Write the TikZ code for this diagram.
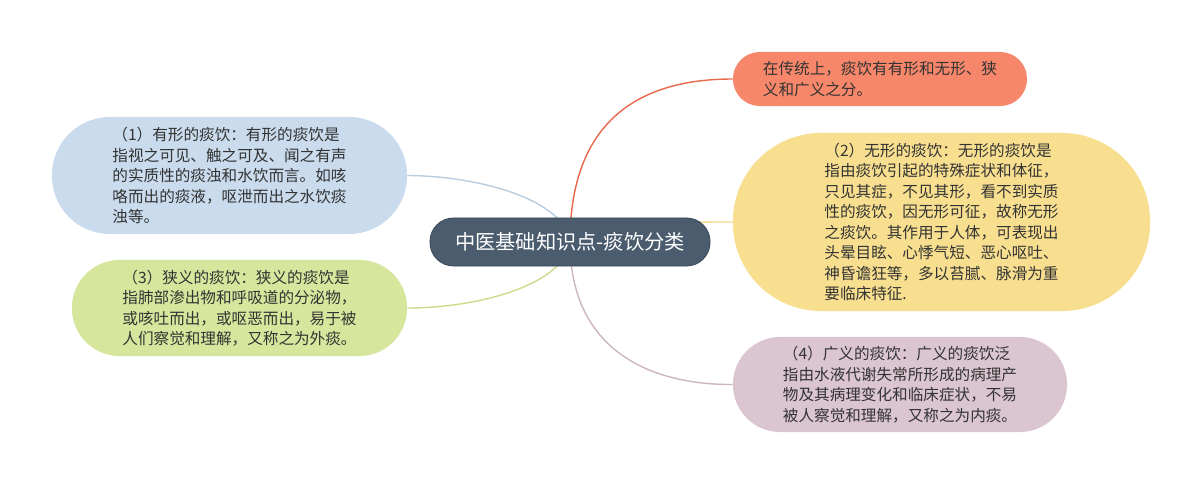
\documentclass[tikz,border=0pt]{standalone}
\usepackage{fontspec}
\newfontfamily\cjk{Noto Sans CJK SC}
\pgfdeclarelayer{bg}
\pgfsetlayers{bg,main}
\definecolor{cdark}{HTML}{4A5C6D}
\definecolor{cdarkline}{HTML}{3B4A58}
\definecolor{corange}{HTML}{F7876A}
\definecolor{corangeline}{HTML}{E8694C}
\definecolor{cyellow}{HTML}{F8DF90}
\definecolor{cyellowline}{HTML}{F1D88A}
\definecolor{cpink}{HTML}{DAC5D0}
\definecolor{cpinkline}{HTML}{CDB6C2}
\definecolor{cblue}{HTML}{C9DBEC}
\definecolor{cblueline}{HTML}{B8CDE0}
\definecolor{cgreen}{HTML}{D6E69C}
\definecolor{cgreenline}{HTML}{CCDC8C}
\definecolor{ctext}{HTML}{333333}
\begin{document}
\begin{tikzpicture}[x=0.025cm,y=-0.025cm,
  leaf/.style={inner sep=0pt, align=left, text=ctext,
    font=\cjk\fontsize{11.1}{14.6}\selectfont},
  rootbox/.style={inner sep=0pt, fill=cdark, draw=cdarkline, line width=0.6pt,
    text=white, font=\cjk\fontsize{14.4}{17}\selectfont,
    minimum width=7cm, minimum height=1.2cm, rounded corners=0.59cm},
  link/.style={line width=1pt}]
\useasboundingbox (0,0) rectangle (1200,485);

\node[rootbox] (c) at (570,242) {中医基础知识点-痰饮分类};

\node[leaf, fill=corange, minimum width=7.35cm, minimum height=1.35cm,
  rounded corners=0.67cm] (o) at (880,79)
  {在传统上，痰饮有有形和无形、狭\\义和广义之分。};

\node[leaf, fill=cyellow, minimum width=10.425cm, minimum height=4.45cm,
  rounded corners=2.2cm] (y) at (941.5,222)
  {（2）无形的痰饮：无形的痰饮是\\指由痰饮引起的特殊症状和体征，\\只见其症，不见其形，看不到实质\\性的痰饮，因无形可征，故称无形\\之痰饮。其作用于人体，可表现出\\头晕目眩、心悸气短、恶心呕吐、\\神昏谵狂等，多以苔腻、脉滑为重\\要临床特征.};

\node[leaf, fill=cpink, minimum width=8.35cm, minimum height=2.375cm,
  rounded corners=1.18cm] (p) at (900,384.5)
  {（4）广义的痰饮：广义的痰饮泛\\指由水液代谢失常所形成的病理产\\物及其病理变化和临床症状，不易\\被人察觉和理解，又称之为内痰。};

\node[leaf, fill=cblue, minimum width=8.875cm, minimum height=2.925cm,
  rounded corners=1.45cm] (b) at (229.5,175.5)
  {（1）有形的痰饮：有形的痰饮是\\指视之可见、触之可及、闻之有声\\的实质性的痰浊和水饮而言。如咳\\咯而出的痰液，呕泄而出之水饮痰\\浊等。};

\node[leaf, fill=cgreen, minimum width=8.375cm, minimum height=2.4cm,
  rounded corners=1.19cm] (g) at (239.5,308)
  {（3）狭义的痰饮：狭义的痰饮是\\指肺部渗出物和呼吸道的分泌物，\\或咳吐而出，或呕恶而出，易于被\\人们察觉和理解，又称之为外痰。};

\begin{pgfonlayer}{bg}
\fill[white] (0,0) rectangle (1200,485);
\draw[link, corangeline] (c.center) .. controls (570,120) and (640,79) .. (o.west);
\draw[link, cyellowline] (c.center) .. controls (620,222) and (680,222) .. (y.west);
\draw[link, cpinkline] (c.center) .. controls (570,350) and (650,385) .. (p.west);
\draw[link, cblueline] (c.center) .. controls (565,200) and (480,176) .. (b.east);
\draw[link, cgreenline] (c.center) .. controls (565,284) and (480,308) .. (g.east);
\end{pgfonlayer}
\end{tikzpicture}
\end{document}
